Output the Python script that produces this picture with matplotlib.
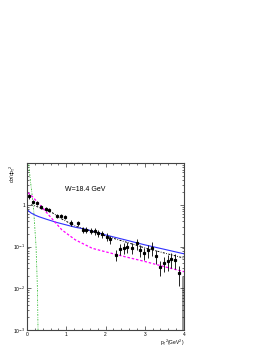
import numpy as np
import matplotlib
matplotlib.use("Agg")
import matplotlib.pyplot as plt
from matplotlib.ticker import FixedLocator, MultipleLocator, NullFormatter

plt.rcParams['font.family'] = ['Liberation Sans', 'DejaVu Sans']

# data points
pt2 = [0.05, 0.15, 0.26, 0.36, 0.48, 0.56, 0.76, 0.87, 0.97, 1.13, 1.29, 1.42, 1.51,
       1.62, 1.73, 1.81, 1.91, 2.03, 2.12, 2.27, 2.37, 2.47, 2.56, 2.67, 2.79,
       2.88, 2.98, 3.08, 3.18, 3.28, 3.38, 3.48, 3.58, 3.68, 3.77, 3.87]
sig = [1.6, 1.2, 1.1, 0.9, 0.8, 0.76, 0.55, 0.55, 0.52, 0.37, 0.36, 0.25, 0.25,
       0.24, 0.23, 0.21, 0.2, 0.17, 0.15, 0.063, 0.088, 0.093, 0.098, 0.093, 0.12,
       0.083, 0.07, 0.083, 0.093, 0.06, 0.033, 0.04, 0.044, 0.05, 0.048, 0.023]
err_rel = [0.12, 0.1, 0.1, 0.1, 0.1, 0.1, 0.12, 0.12, 0.12, 0.14, 0.15, 0.15, 0.16,
           0.17, 0.18, 0.18, 0.2, 0.22, 0.22, 0.3, 0.3, 0.3, 0.3, 0.3, 0.3,
           0.32, 0.32, 0.35, 0.35, 0.35, 0.4, 0.4, 0.4, 0.4, 0.4, 0.5]

# model curves
x_blue = [0.02, 0.1, 0.2, 0.3, 0.5, 0.75, 1.0, 1.23, 1.5, 2.0, 2.5, 3.0, 3.5, 4.0]
y_blue = [0.74, 0.64, 0.57, 0.52, 0.45, 0.38, 0.33, 0.29, 0.26, 0.19, 0.145, 0.11, 0.086, 0.067]

x_black = [0.1, 0.2, 0.4, 0.63, 0.9, 1.23, 1.6, 2.0, 2.5, 3.0, 3.5, 4.0]
y_black = [1.0, 0.95, 0.8, 0.66, 0.45, 0.31, 0.24, 0.18, 0.13, 0.093, 0.07, 0.053]

x_mag = [0.02, 0.1, 0.2, 0.33, 0.59, 0.89, 1.23, 1.66, 2.0, 2.5, 3.0, 3.5, 4.0]
y_mag = [1.95, 1.7, 1.35, 1.0, 0.52, 0.25, 0.145, 0.091, 0.075, 0.057, 0.044, 0.033, 0.025]

x_green = [0.03, 0.09, 0.16, 0.23, 0.265, 0.28, 0.29]
y_green = [12, 3.5, 1.0, 0.1, 0.01, 0.001, 0.0005]
x_green2 = [2.4, 4.0]
y_green2 = [1.02e-3, 1.02e-3]

fig = plt.figure(figsize=(2.73, 3.53), dpi=100)
ax = fig.add_axes([0.099, 0.065, 0.575, 0.473])

ax.plot(x_green, y_green, color='#33bb33', lw=0.6, ls=(0, (2, 1.5, 0.8, 1.5)))
ax.plot(x_green2, y_green2, color='#33bb33', lw=0.6, ls=(0, (2, 1.5, 0.8, 1.5)))
ax.plot(x_blue, y_blue, color='#3030ff', lw=0.8)
ax.plot(x_black, y_black, color='black', lw=0.7, ls=(0, (2, 1.5, 0.8, 1.5)))
ax.plot(x_mag, y_mag, color='#ff00ff', lw=0.9, ls=(0, (2, 1.5)))

err = np.array(sig) * np.array(err_rel)
ax.errorbar(pt2, sig, yerr=err, fmt='s', ms=1.3, color='black', ecolor='black',
            elinewidth=0.6, capsize=0)

ax.fill_between([3.96, 4.0], [1e-3, 1e-3], [0.019, 0.019], color='#999999', lw=0)

ax.set_yscale('log')
ax.set_xlim(0, 4)
ax.set_ylim(1e-3, 10)

ax.xaxis.set_major_locator(FixedLocator([0, 1, 2, 3, 4]))
ax.xaxis.set_minor_locator(MultipleLocator(0.2))
ax.yaxis.set_major_locator(FixedLocator([1e-3, 1e-2, 1e-1, 1]))
ax.set_yticklabels(['10$^{-3}$', '10$^{-2}$', '10$^{-1}$', '1'])
ax.yaxis.set_minor_formatter(NullFormatter())
ax.tick_params(which='both', direction='in', top=True, right=True,
               labelsize=3.5, width=0.4, pad=1.5)
ax.tick_params(which='major', length=3)
ax.tick_params(which='minor', length=1.5)
for s in ax.spines.values():
    s.set_linewidth(0.8)
    s.set_color('#444444')

ax.text(0.97, 2.1, 'W=18.4 GeV', fontsize=5)
fig.text(0.046, 0.535, r'd$\sigma$/dp$_{\rm T}$$^2$', rotation=90, fontsize=3.5,
         ha='center', va='top')
fig.text(0.674, 0.028, r'p$_{\rm T}$$^2$(GeV$^2$)', fontsize=3.5, ha='right', va='center')

fig.savefig('out.png', dpi=100)
